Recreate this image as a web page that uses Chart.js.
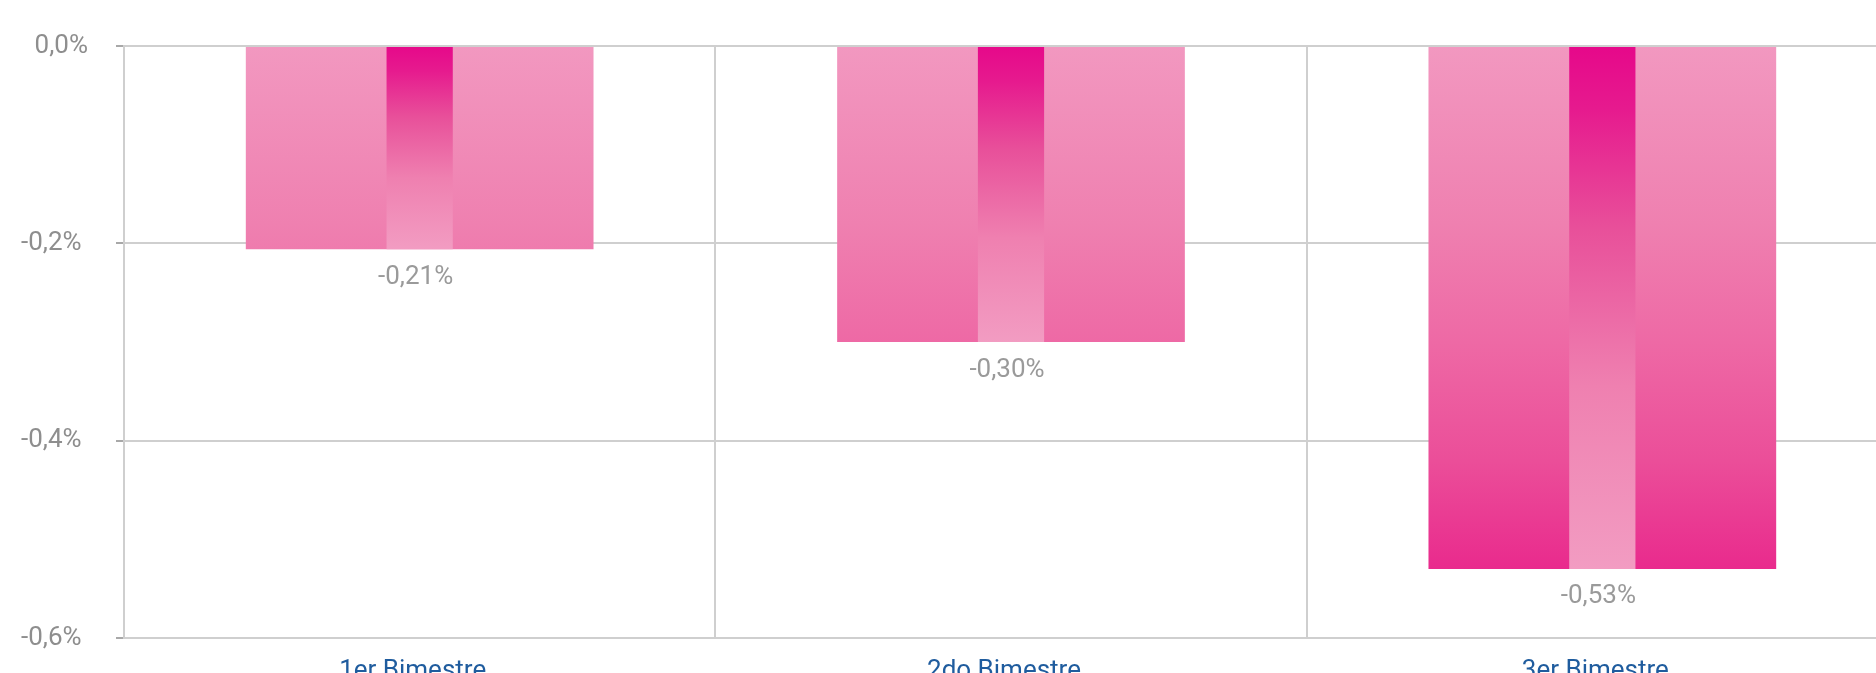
<!DOCTYPE html>
<html>
<head>
<meta charset="utf-8">
<script src="https://cdn.jsdelivr.net/npm/chart.js@4"></script>
<style>
  html, body { margin: 0; padding: 0; background: #fff; overflow: hidden; }
  #wrap { width: 1900px; height: 720px; position: relative; }
</style>
</head>
<body>
<div id="wrap"><canvas id="chart"></canvas></div>
<script>
const categories = ['1er Bimestre', '2do Bimestre', '3er Bimestre'];
const values = [-0.206, -0.30, -0.53];
const valueLabels = ['-0,21%', '-0,30%', '-0,53%'];
const yTickValues = [0, -0.2, -0.4, -0.6];
// negative labels carry a trailing space like the original number format
const yTickLabels = ['0,0%', '-0,2% ', '-0,4% ', '-0,6% '];

const FONT = 'Roboto';
const gridColor = '#cfcfcf';

// wide bar: gradient over the whole plot height
function outerFill(context) {
    const chart = context.chart;
    const area = chart.chartArea;
    if (!area) return '#ef7fb0';
    const g = chart.ctx.createLinearGradient(0, area.top, 0, area.bottom);
    g.addColorStop(0, '#f298c0');
    g.addColorStop(0.3, '#ef80b0');
    g.addColorStop(0.5, '#ee69a5');
    g.addColorStop(0.7, '#eb4e99');
    g.addColorStop(0.88, '#e92b8d');
    g.addColorStop(1, '#e8208a');
    return g;
}

// narrow bar: dark at zero, light at the bar end
function innerFill(context) {
    const chart = context.chart;
    const y = chart.scales.y;
    if (!chart.chartArea || context.raw === undefined) return '#e84f9a';
    const y0 = y.getPixelForValue(0);
    const y1 = y.getPixelForValue(context.raw);
    const g = chart.ctx.createLinearGradient(0, y0, 0, y1);
    g.addColorStop(0, '#e6088a');
    g.addColorStop(0.12, '#e61a8e');
    g.addColorStop(0.35, '#e8509a');
    g.addColorStop(0.65, '#ef80b0');
    g.addColorStop(1, '#f29cc2');
    return g;
}

const valueLabelPlugin = {
    id: 'valueLabels',
    afterDatasetsDraw(chart) {
        const meta = chart.getDatasetMeta(1);
        const c = chart.ctx;
        c.save();
        c.font = '26px ' + FONT;
        c.fillStyle = '#9a9a9a';
        c.textAlign = 'center';
        c.textBaseline = 'middle';
        meta.data.forEach((bar, i) => {
            c.fillText(valueLabels[i], bar.x - 4, bar.y + 28);
        });
        c.restore();
    }
};

new Chart(document.getElementById('chart'), {
    type: 'bar',
    data: {
        labels: categories,
        datasets: [
            {
                label: 'inner',
                data: values,
                backgroundColor: innerFill,
                barPercentage: 0.112,
                categoryPercentage: 1,
                grouped: false
            },
            {
                label: 'outer',
                data: values,
                backgroundColor: outerFill,
                barPercentage: 0.588,
                categoryPercentage: 1,
                grouped: false
            }
        ]
    },
    options: {
        responsive: true,
        maintainAspectRatio: false,
        animation: false,
        layout: { padding: { top: 46, right: 2, bottom: 0, left: 0 } },
        plugins: {
            legend: { display: false },
            tooltip: { enabled: false }
        },
        scales: {
            x: {
                grid: { color: gridColor, lineWidth: 2, drawTicks: false, offset: true },
                border: { color: gridColor, width: 2 },
                ticks: {
                    color: '#1f5c9e',
                    font: { family: FONT, size: 26 },
                    padding: 18,
                    labelOffset: -7,
                    maxRotation: 0
                },
                afterFit(scale) { scale.height = 82; }
            },
            y: {
                min: -0.6,
                max: 0,
                afterBuildTicks(scale) {
                    scale.ticks = yTickValues.map(v => ({ value: v }));
                },
                grid: { color: gridColor, lineWidth: 2, tickLength: 8, tickColor: '#a8a8a8', tickWidth: 2 },
                border: { color: gridColor, width: 2 },
                ticks: {
                    color: '#8e8e8e',
                    font: { family: FONT, size: 26 },
                    padding: 28,
                    callback: (v, i) => yTickLabels[i]
                },
                afterFit(scale) { scale.width = 124; }
            }
        }
    },
    plugins: [valueLabelPlugin]
});
</script>
</body>
</html>
